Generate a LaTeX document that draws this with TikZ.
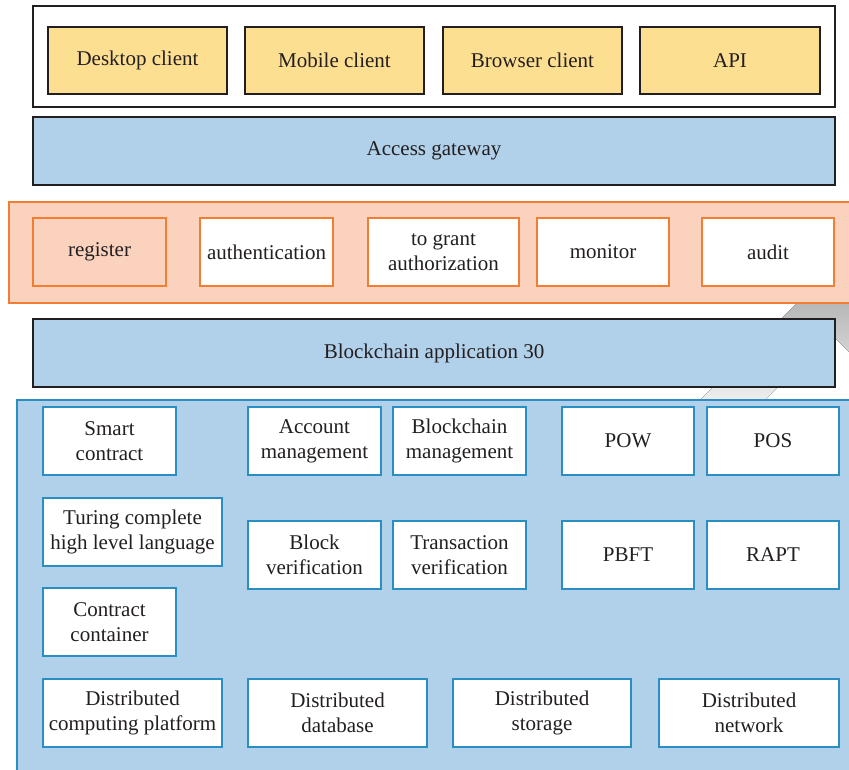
\documentclass[tikz,border=0pt]{standalone}
\usepackage{fontspec}
\setmainfont{Liberation Serif}
\begin{document}
\definecolor{inkc}{RGB}{35,31,32}
\definecolor{yelfill}{RGB}{253,223,145}
\definecolor{bluefill}{RGB}{177,208,234}
\definecolor{blueline}{RGB}{41,143,194}
\definecolor{peach}{RGB}{251,210,190}
\definecolor{orangeline}{RGB}{243,125,51}
\definecolor{shade}{RGB}{211,211,211}
\begin{tikzpicture}[x=1pt,y=-1pt,
  every node/.style={inner sep=0pt,outer sep=0pt,align=center,text=inkc,
    font=\fontsize{21}{25}\selectfont},
  wh/.style 2 args={minimum width=#1pt,minimum height=#2pt},
  frame/.style={draw=inkc,line width=2pt,fill=white},
  clientbox/.style={draw=inkc,line width=2pt,fill=yelfill},
  layerbox/.style={draw=inkc,line width=2pt,fill=bluefill},
  bandbox/.style={draw=orangeline,line width=2pt,fill=peach},
  secbox/.style={draw=orangeline,line width=2pt,fill=white},
  panelbox/.style={draw=blueline,line width=2pt,fill=bluefill},
  modbox/.style={draw=blueline,line width=2pt,fill=white}]
\useasboundingbox (0,0) rectangle (849,769);
\clip (0,0) rectangle (849,769);

% large grey arrow in the background
\fill[shade] (670,430) -- (798.5,301.5) -- (760,263) -- (860,205) -- (900,205)
  -- (900,403) -- (831,334) -- (735,430) -- cycle;

% client layer
\node[frame,wh={802}{101}] (clients) at (434,56.5) {};
\node[clientbox,wh={179}{67}] (desk) at (137.5,60.5) {Desktop client};
\node[clientbox,wh={179}{67}] (mobile) at (334.5,60.5) {Mobile client};
\node[clientbox,wh={179}{67}] (browser) at (532.5,60.5) {Browser client};
\node[clientbox,wh={180}{67}] (api) at (730,60.5) {API};

% gateway
\node[layerbox,wh={802}{68}] (gateway) at (434,151) {Access gateway};

% security band
\node[bandbox,wh={861}{101}] (security) at (439.5,252.5) {};
\node[bandbox,wh={133}{68}] (register) at (99.5,252) {register};
\node[secbox,wh={133}{68}] (auth) at (266.5,252) {authentication};
\node[secbox,wh={151}{68}] (grant) at (443.5,252) {to grant\\authorization};
\node[secbox,wh={132}{68}] (monitor) at (603,252) {monitor};
\node[secbox,wh={132}{68}] (audit) at (768,252) {audit};

% application layer
\node[layerbox,wh={802}{68}] (app) at (434,353) {Blockchain application 30};

% platform panel
\node[panelbox,wh={853}{380}] (platform) at (443.5,590) {};
\node[modbox,wh={133}{68}] (smart) at (109.5,441) {Smart\\contract};
\node[modbox,wh={133}{68}] (account) at (314.5,441) {Account\\management};
\node[modbox,wh={133}{68}] (chainmgmt) at (459.5,441) {Blockchain\\management};
\node[modbox,wh={132}{68}] (pow) at (628,441) {POW};
\node[modbox,wh={132}{68}] (pos) at (773,441) {POS};

\node[modbox,wh={179}{68}] (turing) at (132.5,532) {Turing complete\\high level language};
\node[modbox,wh={133}{68}] (blockver) at (314.5,555) {Block\\verification};
\node[modbox,wh={133}{68}] (txver) at (459.5,555) {Transaction\\verification};
\node[modbox,wh={132}{68}] (pbft) at (628,555) {PBFT};
\node[modbox,wh={132}{68}] (rapt) at (773,555) {RAPT};

\node[modbox,wh={133}{68}] (container) at (109.5,622) {Contract\\container};

\node[modbox,wh={179}{68}] (dcp) at (132.5,713) {Distributed\\computing platform};
\node[modbox,wh={179}{68}] (ddb) at (337.5,713) {Distributed\\database};
\node[modbox,wh={178}{68}] (dstore) at (542,713) {Distributed\\storage};
\node[modbox,wh={180}{68}] (dnet) at (749,713) {Distributed\\network};
\end{tikzpicture}
\end{document}
